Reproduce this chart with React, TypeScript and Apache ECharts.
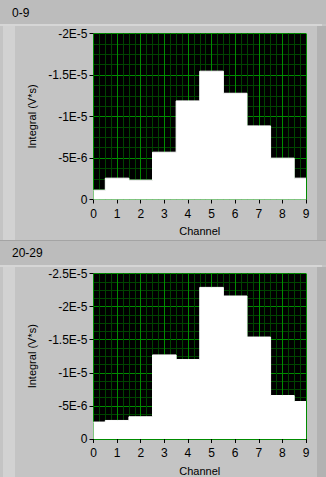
import React, { useEffect, useRef } from "react";
import * as echarts from "echarts";

const channels = [0, 1, 2, 3, 4, 5, 6, 7, 8, 9];
const xTickLabels = ["0", "1", "2", "3", "4", "5", "6", "7", "8", "9"];
const topTitle = "0-9";
const bottomTitle = "20-29";
const topValues = [-1.12e-6, -2.57e-6, -2.33e-6, -5.7e-6, -1.188e-5, -1.546e-5, -1.28e-5, -8.87e-6, -4.98e-6, -2.57e-6];
const bottomValues = [-2.56e-6, -2.8e-6, -3.36e-6, -1.27e-5, -1.2e-5, -2.29e-5, -2.16e-5, -1.54e-5, -6.57e-6, -5.66e-6];
const topYTicks = ["0", "-5E-6", "-1E-5", "-1.5E-5", "-2E-5"];
const bottomYTicks = ["0", "-5E-6", "-1E-5", "-1.5E-5", "-2E-5", "-2.5E-5"];
const yName = "Integral (V*s)";
const xName = "Channel";

const FONT = "Liberation Sans";
const W = 326;
const H = 477;

export default function App() {
  const ref = useRef<HTMLDivElement>(null);
  useEffect(() => {
    if (!ref.current) return;
    const chart = echarts.init(ref.current, null, { renderer: "svg" });
    const step = 5e-6;
    const grids = [
      { left: 93.5, top: 33.5, width: 212.5, height: 166 },
      { left: 93.5, top: 273.5, width: 212.5, height: 166 },
    ];
    const yTickSets = [topYTicks, bottomYTicks];
    const valueSets = [topValues, bottomValues];
    const mkX = (i: number) => ({
      type: "value",
      gridIndex: i,
      min: 0,
      max: 9,
      interval: 1,
      offset: 3,
      name: xName,
      nameLocation: "middle",
      nameGap: 23,
      nameTextStyle: { fontFamily: FONT, fontSize: 11, color: "#000" },
      axisLine: { show: false },
      axisTick: { show: true, length: 4, lineStyle: { color: "#000", width: 1 } },
      axisLabel: {
        margin: 5,
        fontFamily: FONT,
        fontSize: 12,
        color: "#000",
        formatter: (v: number) => xTickLabels[Math.round(v)] ?? "",
      },
      splitLine: { show: true, lineStyle: { color: "#008c00", width: 1 } },
      minorTick: { show: false, splitNumber: 4 },
      minorSplitLine: { show: true, lineStyle: { color: "#004400", width: 1 } },
    });
    const mkY = (i: number) => {
      const ticks = yTickSets[i];
      return {
        type: "value",
        gridIndex: i,
        inverse: true,
        min: -(ticks.length - 1) * step,
        max: 0,
        interval: step,
        name: yName,
        nameLocation: "middle",
        nameGap: 50,
        nameTextStyle: { fontFamily: FONT, fontSize: 11, color: "#000" },
        axisLine: { show: false },
        axisTick: { show: true, length: 4, lineStyle: { color: "#000", width: 1 } },
        axisLabel: {
          margin: 6,
          fontFamily: FONT,
          fontSize: 12,
          color: "#000",
          formatter: (v: number) => ticks[Math.round(-v / step)] ?? "",
        },
        splitLine: { show: true, lineStyle: { color: "#008c00", width: 1 } },
        minorTick: { show: false, splitNumber: 4 },
        minorSplitLine: { show: true, lineStyle: { color: "#004400", width: 1 } },
      };
    };
    chart.setOption({
      animation: false,
      backgroundColor: "#c4c4c4",
      grid: grids.map((g) => ({ ...g, show: true, backgroundColor: "#000", borderWidth: 0 })),
      xAxis: [mkX(0), mkX(1)],
      yAxis: [mkY(0), mkY(1)],
      series: valueSets.map((vals, i) => ({
        type: "line",
        xAxisIndex: i,
        yAxisIndex: i,
        step: "middle",
        symbol: "none",
        data: channels.map((c, k) => [c, vals[k]]),
        lineStyle: { color: "#fff", width: 1 },
        areaStyle: { color: "#fff", opacity: 1 },
        z: 3,
      })),
      graphic: [
        // title strips
        { type: "rect", shape: { x: 0, y: 0, width: W, height: 24 }, style: { fill: "#bcbcbc" }, z: -10 },
        { type: "rect", shape: { x: 0, y: 24, width: 322, height: 2 }, style: { fill: "#d6d6d6" }, z: -9 },
        { type: "rect", shape: { x: 3, y: 26, width: 12, height: 214 }, style: { fill: "#d2d2d2" }, z: -9 },
        { type: "rect", shape: { x: 317, y: 26, width: 9, height: 214 }, style: { fill: "#b2b2b2" }, z: -9 },
        { type: "rect", shape: { x: 0, y: 240, width: W, height: 1 }, style: { fill: "#a4a4a4" }, z: -9 },
        { type: "rect", shape: { x: 0, y: 241, width: W, height: 24 }, style: { fill: "#bcbcbc" }, z: -10 },
        { type: "rect", shape: { x: 0, y: 265, width: 322, height: 2 }, style: { fill: "#d6d6d6" }, z: -9 },
        { type: "rect", shape: { x: 3, y: 267, width: 12, height: 210 }, style: { fill: "#d2d2d2" }, z: -9 },
        { type: "rect", shape: { x: 317, y: 267, width: 9, height: 210 }, style: { fill: "#b2b2b2" }, z: -9 },
        {
          type: "text",
          x: 12,
          y: 13,
          style: { text: topTitle, fontFamily: FONT, fontSize: 12, fill: "#000", verticalAlign: "middle" },
        },
        {
          type: "text",
          x: 12,
          y: 253,
          style: { text: bottomTitle, fontFamily: FONT, fontSize: 12, fill: "#000", verticalAlign: "middle" },
        },
      ],
    });
    return () => chart.dispose();
  }, []);
  return (
    <div
      ref={ref}
      style={{ position: "fixed", left: 0, top: 0, width: W, height: H }}
    />
  );
}
